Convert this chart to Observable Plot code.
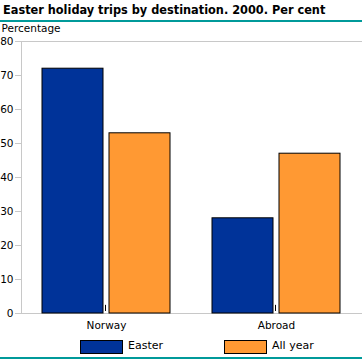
<!DOCTYPE html>
<html><head><meta charset="utf-8">
<script src="https://cdn.jsdelivr.net/npm/d3@7"></script>
<script src="https://cdn.jsdelivr.net/npm/@observablehq/plot@0.6"></script>
<style>
body{margin:0;background:#fff;font-family:"DejaVu Sans",sans-serif;}
#wrap{position:relative;width:362px;height:359px;overflow:hidden;}
#title{position:absolute;left:3px;top:2px;font:bold 12.6px "DejaVu Sans Condensed","DejaVu Sans",sans-serif;color:#000;white-space:nowrap;}
.teal{position:absolute;left:0;width:362px;height:2px;background:#009a9a;}
#chart{position:absolute;left:0;top:22px;}
#legend{position:absolute;top:340px;left:0;width:362px;height:14px;font-size:11px;}
.sw{position:absolute;top:0;width:41px;height:12px;border:1px solid #000;}
.lt{position:absolute;top:-1px;white-space:nowrap;}
</style></head><body>
<div id="wrap">
<div id="title">Easter holiday trips by destination. 2000. Per cent</div>
<div class="teal" style="top:20px"></div>
<div id="chart"></div>
<div id="legend"></div>
<div class="teal" style="top:357px"></div>
</div>
<script>
const destinations = ["Norway", "Abroad"];
const series = ["Easter", "All year"];
const easter = [72, 28];
const allYear = [53, 47];
const colors = ["#003399", "#ff9933"];
const yTicks = [0, 10, 20, 30, 40, 50, 60, 70, 80];

const data = [];
destinations.forEach((d, i) => {
  data.push({dest: d, series: "Easter", value: easter[i]});
  data.push({dest: d, series: "All year", value: allYear[i]});
});

const plot = Plot.plot({
  width: 362,
  height: 314,
  marginTop: 19,
  marginBottom: 23,
  marginLeft: 21,
  marginRight: 1,
  style: {fontFamily: "DejaVu Sans, sans-serif", fontSize: "10.5px", color: "#000", background: "transparent"},
  fx: {domain: destinations, padding: 0, label: null},
  x: {domain: series, paddingInner: 0.088, paddingOuter: 0.3, axis: null},
  y: {domain: [0, 80], label: null},
  color: {domain: series, range: colors},
  marks: [
    Plot.frame({anchor: "top", stroke: "#c8c8c8", facet: "super"}),
    Plot.frame({anchor: "left", stroke: "#c8c8c8", facet: "super"}),
    Plot.frame({anchor: "bottom", stroke: "#c8c8c8", facet: "super"}),
    Plot.axisY({ticks: yTicks, tickSize: 6, tickPadding: 2, stroke: "#c8c8c8", label: null, fill: "#000"}),
    Plot.axisFx({anchor: "bottom", tickSize: 0, tickPadding: 8, label: null}),
    Plot.barY(data, {fx: "dest", x: "series", y: "value", fill: "series", stroke: "#000", strokeWidth: 1}),
    Plot.ruleX(destinations, {fx: d => d, x: null, y1: 0.6, y2: 2.4, stroke: "#000", dx: -1}),
    Plot.text(["Percentage"], {frameAnchor: "top-left", dy: -17, dx: -20, text: d => d, facet: "super", textAnchor: "start", fill: "#000"})
  ]
});
document.getElementById("chart").appendChild(plot);

const legend = document.getElementById("legend");
const legendX = [80, 224];
series.forEach((s, i) => {
  const sw = document.createElement("div");
  sw.className = "sw"; sw.style.left = legendX[i] + "px"; sw.style.background = colors[i];
  legend.appendChild(sw);
  const t = document.createElement("div");
  t.className = "lt"; t.style.left = (legendX[i] + 48) + "px"; t.textContent = s;
  legend.appendChild(t);
});
</script>
</body></html>
